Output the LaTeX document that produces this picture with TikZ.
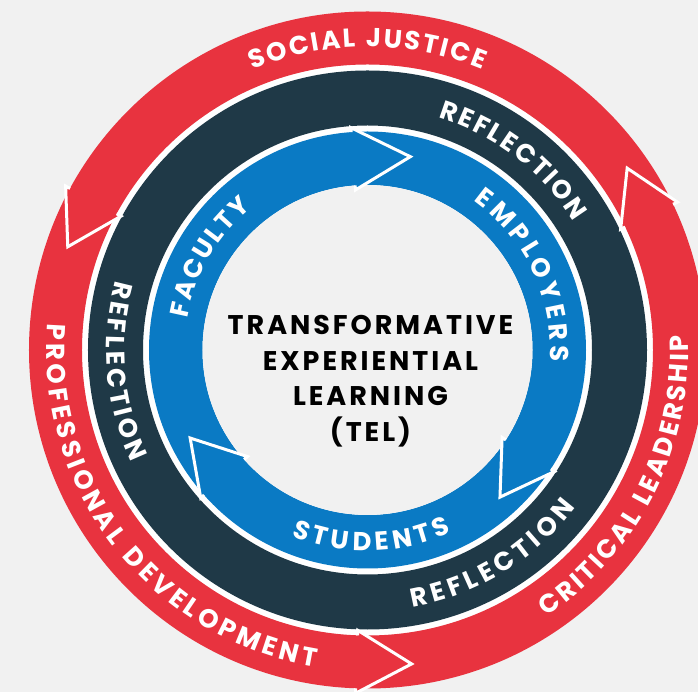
\documentclass[tikz,border=0pt]{standalone}
\usepackage{fontspec}
\setmainfont{Poppins}
\newfontfamily\ringfont{Poppins}
\newfontfamily\centerfont{Poppins}[LetterSpace=11]
\usetikzlibrary{decorations.text}
\definecolor{telred}{HTML}{E8333F}
\definecolor{teldark}{HTML}{1F3947}
\definecolor{telblue}{HTML}{0A7AC4}
\definecolor{telbg}{HTML}{F1F1F1}

\begin{document}
\begin{tikzpicture}[x=1pt, y=1pt,
    ring/.style={even odd rule},
    chevron/.style={draw=white, line width=3pt, line join=miter},
    ringlabel/.style 2 args={decorate, decoration={text effects along path, text={#1}, text align=center,
        text effects/.cd, text along path,
        characters={text=white, font=\ringfont\bfseries\fontsize{26}{26}\selectfont, inner sep=0pt, anchor=base},
        character widths={font=\ringfont\bfseries\fontsize{26}{26}\selectfont, inner sep=0pt, inner xsep=#2}}}
  ]
  \fill[telbg] (-367.5,-342) rectangle (330.5,350);
  \clip (-367.5,-342) rectangle (330.5,350);
  \fill[white] (0,0) circle (285.5);
  \fill[telred, ring] (0,0) circle (338.5) (0,0) circle (285.5);
  \fill[teldark, ring] (0,0) circle (279.5) (0,0) circle (224.5);
  \fill[telblue, ring] (0,0) circle (218.5) (0,0) circle (165);
  \fill[telbg] (0,0) circle (165);

  \foreach \b/\t in {151.5/161, 268/278, 25.5/35} {
    \fill[telred] (\b:343.5) -- (\t:317) -- (\b:280.5) -- cycle;
    \draw[chevron] (\b:338.5) -- (\b:343.5) -- (\t:317) -- (\b:280.5) -- (\b:285.5);
  }
  \foreach \b/\t in {94.3/77.5, -33/-48, 221.6/206.4} {
    \fill[telblue] (\b:223) -- (\t:198) -- (\b:160.5) -- cycle;
    \draw[chevron] (\b:218.5) -- (\b:223) -- (\t:198) -- (\b:160.5) -- (\b:165);
  }

  \path[ringlabel={SOCIAL JUSTICE}{1.1pt}] (150:303) arc[start angle=150, end angle=30, radius=303];
  \path[ringlabel={PROFESSIONAL DEVELOPMENT}{2pt}] (138:321) arc[start angle=138, end angle=298, radius=321];
  \path[ringlabel={CRITICAL LEADERSHIP}{1.4pt}] (-100:321) arc[start angle=-100, end angle=46.6, radius=321];
  \path[ringlabel={REFLECTION}{1.1pt}] (112.5:243) arc[start angle=112.5, end angle=-7.5, radius=243];
  \path[ringlabel={REFLECTION}{1.8pt}] (125:261) arc[start angle=125, end angle=245, radius=261];
  \path[ringlabel={REFLECTION}{2.3pt}] (-118.6:261) arc[start angle=-118.6, end angle=1.4, radius=261];
  \path[ringlabel={FACULTY}{1.1pt}] (209.6:183) arc[start angle=209.6, end angle=89.6, radius=183];
  \path[ringlabel={EMPLOYERS}{2.1pt}] (85.5:183) arc[start angle=85.5, end angle=-34.5, radius=183];
  \path[ringlabel={STUDENTS}{2.2pt}] (-148.8:201) arc[start angle=-148.8, end angle=-28.8, radius=201];

  \node[align=center, inner sep=0pt, font=\centerfont\bfseries\fontsize{27}{35.5}\selectfont] (tel) at (3,-31)
    {TRANSFORMATIVE\\EXPERIENTIAL\\LEARNING\\(TEL)};
\end{tikzpicture}
\end{document}
